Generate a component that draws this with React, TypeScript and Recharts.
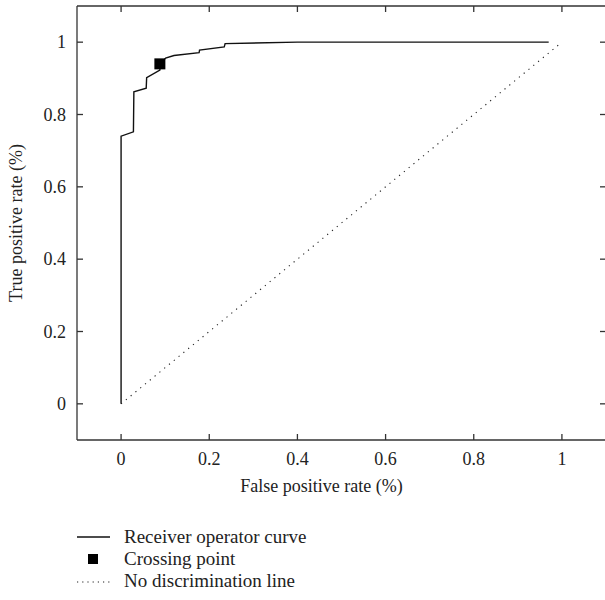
import {
  ComposedChart,
  Line,
  Scatter,
  XAxis,
  YAxis,
} from "recharts";

// ROC curve
const fpr = [0, 0, 0.028, 0.029, 0.057, 0.058, 0.088, 0.089, 0.101, 0.12, 0.177, 0.178, 0.234, 0.236, 0.4, 0.97];
const tpr = [0, 0.74, 0.752, 0.863, 0.873, 0.902, 0.923, 0.94, 0.956, 0.963, 0.971, 0.978, 0.987, 0.996, 1.0, 1.0];

const crossingX = [0.088];
const crossingY = [0.94];

const diagX = [0, 1];
const diagY = [0, 1];

const ticks = [0, 0.2, 0.4, 0.6, 0.8, 1];
const domain: [number, number] = [-0.1, 1.1];

const rocData = fpr.map((x, i) => ({ x, y: tpr[i] }));
const crossData = crossingX.map((x, i) => ({ x, y: crossingY[i] }));
const diagData = diagX.map((x, i) => ({ x, y: diagY[i] }));

const FONT = "'Liberation Serif', 'DejaVu Serif', serif";
const AXIS = "#333";
const fmt = (v: number) => String(Math.round(v * 10) / 10);

const BottomTick = (props: any) => {
  const { x, y, payload } = props;
  return (
    <g>
      <line x1={x} y1={y} x2={x} y2={y - 6} stroke={AXIS} strokeWidth={1.3} />
      <text x={x} y={y + 25} textAnchor="middle" fontFamily={FONT} fontSize={18} fill="#222">
        {fmt(payload.value)}
      </text>
    </g>
  );
};

const LeftTick = (props: any) => {
  const { x, y, payload } = props;
  return (
    <g>
      <line x1={x} y1={y} x2={x + 6} y2={y} stroke={AXIS} strokeWidth={1.3} />
      <text x={x - 11} y={y + 6} textAnchor="end" fontFamily={FONT} fontSize={18} fill="#222">
        {fmt(payload.value)}
      </text>
    </g>
  );
};

const TopTick = (props: any) => {
  const { x, y } = props;
  return <line x1={x} y1={y} x2={x} y2={y + 6} stroke={AXIS} strokeWidth={1.3} />;
};

const RightTick = (props: any) => {
  const { x, y } = props;
  return <line x1={x} y1={y} x2={x - 6} y2={y} stroke={AXIS} strokeWidth={1.3} />;
};

const SquareDot = (props: any) => {
  const { cx, cy } = props;
  return <rect x={cx - 5.5} y={cy - 5.5} width={11} height={11} fill="#000" />;
};

export default function App() {
  return (
    <div style={{ position: "absolute", left: 0, top: 0, width: 605, height: 600, overflow: "hidden", background: "#fff" }}>
      <ComposedChart width={607} height={600} margin={{ top: 5, right: 0, bottom: 120, left: 0 }}>
        <XAxis
          xAxisId="bottom"
          dataKey="x"
          type="number"
          domain={domain}
          ticks={ticks}
          allowDataOverflow
          height={40}
          tickSize={0}
          tickMargin={0}
          tickLine={false}
          tick={<BottomTick />}
          axisLine={{ stroke: AXIS, strokeWidth: 1.3 }}
          label={{
            content: (p: any) => (
              <text
                x={p.viewBox.x + p.viewBox.width / 2 - 20}
                y={p.viewBox.y + 52}
                textAnchor="middle"
                fontFamily={FONT}
                fontSize={18}
                fill="#222"
              >
                False positive rate (%)
              </text>
            ),
          }}
        />
        <XAxis
          xAxisId="top"
          orientation="top"
          dataKey="x"
          type="number"
          domain={domain}
          ticks={ticks}
          allowDataOverflow
          height={1}
          tickSize={0}
          tickMargin={0}
          tickLine={false}
          tick={<TopTick />}
          axisLine={{ stroke: AXIS, strokeWidth: 1.3 }}
        />
        <YAxis
          yAxisId="left"
          dataKey="y"
          type="number"
          domain={domain}
          ticks={ticks}
          allowDataOverflow
          width={77}
          tickSize={0}
          tickMargin={0}
          tickLine={false}
          tick={<LeftTick />}
          axisLine={{ stroke: AXIS, strokeWidth: 1.3 }}
          label={{
            content: (p: any) => (
              <text
                transform={`translate(18, ${p.viewBox.y + p.viewBox.height / 2}) rotate(-90)`}
                textAnchor="middle"
                dominantBaseline="middle"
                fontFamily={FONT}
                fontSize={18}
                fill="#222"
              >
                True positive rate (%)
              </text>
            ),
          }}
        />
        <YAxis
          yAxisId="right"
          orientation="right"
          dataKey="y"
          type="number"
          domain={domain}
          ticks={ticks}
          allowDataOverflow
          width={1}
          tickSize={0}
          tickMargin={0}
          tickLine={false}
          tick={<RightTick />}
          axisLine={false}
        />
        {/* invisible series so the top / right frame axes get drawn */}
        <Line
          xAxisId="top"
          yAxisId="right"
          data={diagData}
          dataKey="y"
          stroke="none"
          dot={false}
          activeDot={false}
          isAnimationActive={false}
        />
        <Line
          xAxisId="bottom"
          yAxisId="left"
          data={diagData}
          dataKey="y"
          type="linear"
          stroke="#222"
          strokeWidth={1.1}
          strokeDasharray="1.2 5"
          dot={false}
          isAnimationActive={false}
        />
        <Line
          xAxisId="bottom"
          yAxisId="left"
          data={rocData}
          dataKey="y"
          type="linear"
          stroke="#111"
          strokeWidth={1.4}
          dot={false}
          isAnimationActive={false}
        />
        <Scatter
          xAxisId="bottom"
          yAxisId="left"
          data={crossData}
          dataKey="y"
          shape={<SquareDot />}
          isAnimationActive={false}
        />
      </ComposedChart>
      <svg
        width={400}
        height={80}
        style={{ position: "absolute", left: 0, top: 520 }}
        fontFamily={FONT}
        fontSize={19}
      >
        <line x1={77} y1={17} x2={110} y2={17} stroke="#111" strokeWidth={1.4} />
        <text x={124} y={23} fill="#222">Receiver operator curve</text>
        <rect x={88} y={34} width={10} height={10} fill="#000" />
        <text x={124} y={45} fill="#222">Crossing point</text>
        <line x1={77} y1={62} x2={110} y2={62} stroke="#222" strokeWidth={1.1} strokeDasharray="1.2 4" />
        <text x={124} y={67} fill="#222">No discrimination line</text>
      </svg>
    </div>
  );
}
